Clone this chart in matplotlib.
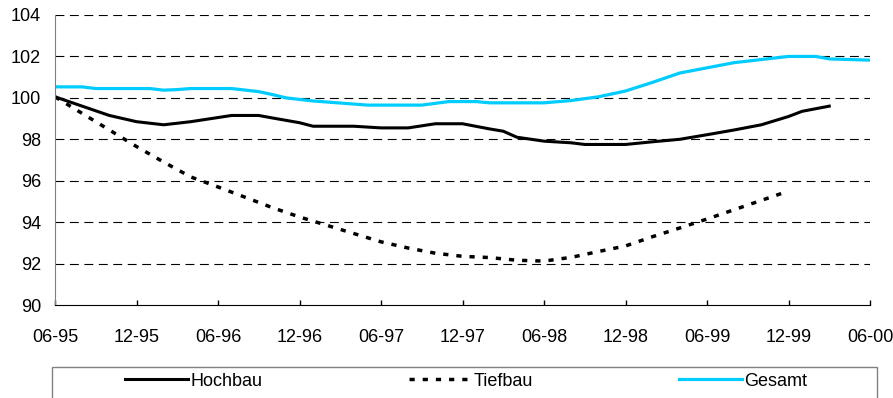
import matplotlib
matplotlib.use("Agg")
import matplotlib.pyplot as plt
from matplotlib.patches import Rectangle
from matplotlib.lines import Line2D

plt.rcParams['font.family'] = ['Liberation Sans', 'DejaVu Sans']

# months after 06-95
tick_labels = ['06-95', '12-95', '06-96', '12-96', '06-97', '12-97',
               '06-98', '12-98', '06-99', '12-99', '06-00']

hoch_m = [0, 2, 4, 6, 8, 10, 12, 13, 15, 16, 18, 19, 22, 24, 26, 28, 30,
          32, 33, 34, 36, 38, 39, 42, 44, 46, 48, 50, 52, 54, 55, 57]
hoch_v = [100.05, 99.6, 99.15, 98.85, 98.7, 98.85, 99.05, 99.15, 99.15, 99.03,
          98.8, 98.63, 98.63, 98.55, 98.55, 98.75, 98.75, 98.5, 98.39, 98.1,
          97.91, 97.83, 97.75, 97.75, 97.88, 98.0, 98.22, 98.45, 98.7, 99.1,
          99.35, 99.6]

tief_m = [0, 2, 4, 6, 8, 10, 12, 14, 16, 18, 20, 22, 24, 26, 28, 30, 32,
          34, 36, 38, 40, 42, 44, 46, 48, 50, 52, 54]
tief_v = [100.05, 99.25, 98.45, 97.65, 96.9, 96.18, 95.7, 95.2, 94.7, 94.25,
          93.85, 93.45, 93.05, 92.75, 92.5, 92.35, 92.29, 92.16, 92.12, 92.3,
          92.58, 92.85, 93.3, 93.72, 94.15, 94.6, 95.05, 95.5]

ges_m = [0, 2, 3, 7, 8, 9, 10, 13, 15, 16, 17, 19, 21, 23, 27, 29, 31, 32,
         36, 38, 40, 42, 44, 46, 48, 50, 52, 54, 56, 57, 60]
ges_v = [100.53, 100.53, 100.45, 100.45, 100.37, 100.4, 100.45, 100.45, 100.3,
         100.16, 100.0, 99.85, 99.75, 99.65, 99.65, 99.82, 99.82, 99.76, 99.76,
         99.87, 100.05, 100.33, 100.75, 101.2, 101.45, 101.7, 101.85, 102.0,
         102.0, 101.88, 101.82]

W, H = 893, 398
fig = plt.figure(figsize=(W / 100, H / 100), dpi=100)
ax = fig.add_axes([55 / W, 1 - 305 / H, (870 - 55) / W, (305 - 15) / H])

dots = (0, (1.5, 2.3))
ax.plot(hoch_m, hoch_v, color='black', lw=2.2, solid_joinstyle='round')
ax.plot(tief_m, tief_v, color='black', lw=2.5, linestyle=dots)
ax.plot(ges_m, ges_v, color='#00CCFF', lw=2.3, solid_joinstyle='round')

ax.set_xlim(0, 60)
ax.set_ylim(90, 104)
ax.set_xticks(range(0, 61, 6))
ax.set_xticklabels(tick_labels)
ax.set_yticks(range(90, 105, 2))
ax.tick_params(axis='x', direction='in', length=3.6, width=1, pad=17, labelsize=13)
ax.tick_params(axis='y', length=0, pad=10, labelsize=13)

for y in range(92, 105, 2):
    ax.axhline(y, color='black', lw=0.8, linestyle=(0, (8, 5)), zorder=0)

for s in ['top', 'right']:
    ax.spines[s].set_visible(False)
ax.spines['left'].set_color('#808080')
ax.spines['bottom'].set_color('black')

# legend box (cut off by the bottom of the figure)
fig.patches.append(Rectangle((52 / W, 1 - 420 / H), (877 - 52) / W, (420 - 367) / H,
                             transform=fig.transFigure, facecolor='white',
                             edgecolor='#808080', lw=1))

entries = [
    (125, Line2D([], [], color='black', lw=2.2), 'Hochbau'),
    (409, Line2D([], [], color='black', lw=2.5, linestyle=dots), 'Tiefbau'),
    (679, Line2D([], [], color='#00CCFF', lw=2.3), 'Gesamt'),
]
for x0, h, lab in entries:
    fig.legend([h], [lab], loc='center left', bbox_to_anchor=(x0 / W, 1 - 381 / H),
               frameon=False, fontsize=13, handlelength=3.5, handletextpad=0.1,
               borderpad=0, borderaxespad=0)

fig.savefig('out.png', dpi=100)
